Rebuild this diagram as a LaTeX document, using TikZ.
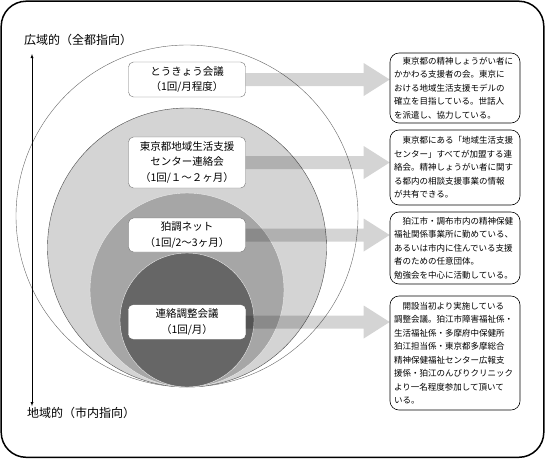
\documentclass[tikz,border=0pt]{standalone}
\usepackage{fontspec}
\setmainfont{Noto Sans CJK JP}
\usetikzlibrary{calc}
\usetikzlibrary{arrows.meta}
\tikzset{>=latex}
\tikzset{
  meetbox/.style={draw=black!55, fill=white, rounded corners=5pt, minimum width=117pt,
    align=center, inner sep=2pt, font=\fontsize{10.5}{15.5}\selectfont},
  notebox/.style={draw=black, line width=0.6pt, fill=white, rounded corners=9pt,
    text width=122pt, inner sep=4pt, align=left, font=\fontsize{8.5}{13.5}\selectfont},
  fatarrow/.style={fill=black, fill opacity=0.17},
  axislabel/.style={anchor=west, inner sep=0pt, font=\fontsize{12}{14}\selectfont}
}

\begin{document}
\begin{tikzpicture}[x=1pt, y=-1pt]

    \useasboundingbox (0,0) rectangle (546,459);

    % frame
    \draw[line width=1.5pt, rounded corners=25pt] (1.2,1.2) rectangle (543.8,457.3);

    % circles, all touching at the bottom
    \filldraw[fill=white, draw=black!60, thin] (187,216) circle [radius=171];
    \filldraw[fill=black!17, draw=black!70, thin] (187,247.5) circle [radius=139.5];
    \filldraw[fill=black!35, draw=black!8, thin] (187,290) circle [radius=97];
    \filldraw[fill=black!60, draw=black!8, thin] (187,320) circle [radius=67];

    % axis
    \node[axislabel] (wide) at (24,40) {広域的（全都指向）};
    \node[axislabel] (local) at (27,413) {地域的（市内指向）};
    \coordinate (axtop) at (32,54);
    \coordinate (axbot) at (32,406);
    \draw[<->, thin] (axtop) -- (axbot);

    % meetings
    \node[meetbox, minimum height=35pt] (mt1) at (187,79.5) {とうきょう会議\\（1回/月程度）};
    \node[meetbox, minimum height=51pt] (mt2) at (187,162.5) {東京都地域生活支援\\センター連絡会\\（1回/１～２ヶ月）};
    \node[meetbox, minimum height=34pt] (mt3) at (187,235) {狛調ネット\\（1回/2～3ヶ月）};
    \node[meetbox, minimum height=34pt, draw=white] (mt4) at (187,322) {連絡調整会議\\（1回/月）};

    % notes
    \node[notebox, minimum height=70pt] (dA) at (455,88) {　東京都の精神しょうがい者に\\かかわる支援者の会。東京に\\おける地域生活支援モデルの\\確立を目指している。世話人\\を派遣し、協力している。};
    \node[notebox, minimum height=75pt] (dB) at (455,167.5) {　東京都にある「地域生活支援\\センター」すべてが加盟する連\\絡会。精神しょうがい者に関す\\る都内の相談支援事業の情報\\が共有できる。};
    \node[notebox, minimum height=72pt] (dC) at (455,248) {　狛江市・調布市内の精神保健\\福祉関係事業所に勤めている、\\あるいは市内に住んでいる支援\\者のための任意団体。\\勉強会を中心に活動している。};
    \node[notebox, minimum height=114pt] (dD) at (455,353) {　開設当初より実施している\\調整会議。狛江市障害福祉係・\\生活福祉係・多摩府中保健所\\狛江担当係・東京都多摩総合\\精神保健福祉センター広報支\\援係・狛江のんびりクリニック\\より一名程度参加して頂いて\\いる。};

    % fat arrows
    \foreach \l/\r in {mt1/dA, mt2/dB, mt3/dC, mt4/dD}
    \fill[fatarrow] let \p1=(\l.east), \p2=(\r.west) in
        (\x1,\y1-6.5pt) -- (\x2-26pt,\y1-6.5pt) -- (\x2-26pt,\y1-16.5pt) -- (\x2,\y1)
        -- (\x2-26pt,\y1+16.5pt) -- (\x2-26pt,\y1+6.5pt) -- (\x1,\y1+6.5pt) -- cycle;

\end{tikzpicture}
\end{document}
